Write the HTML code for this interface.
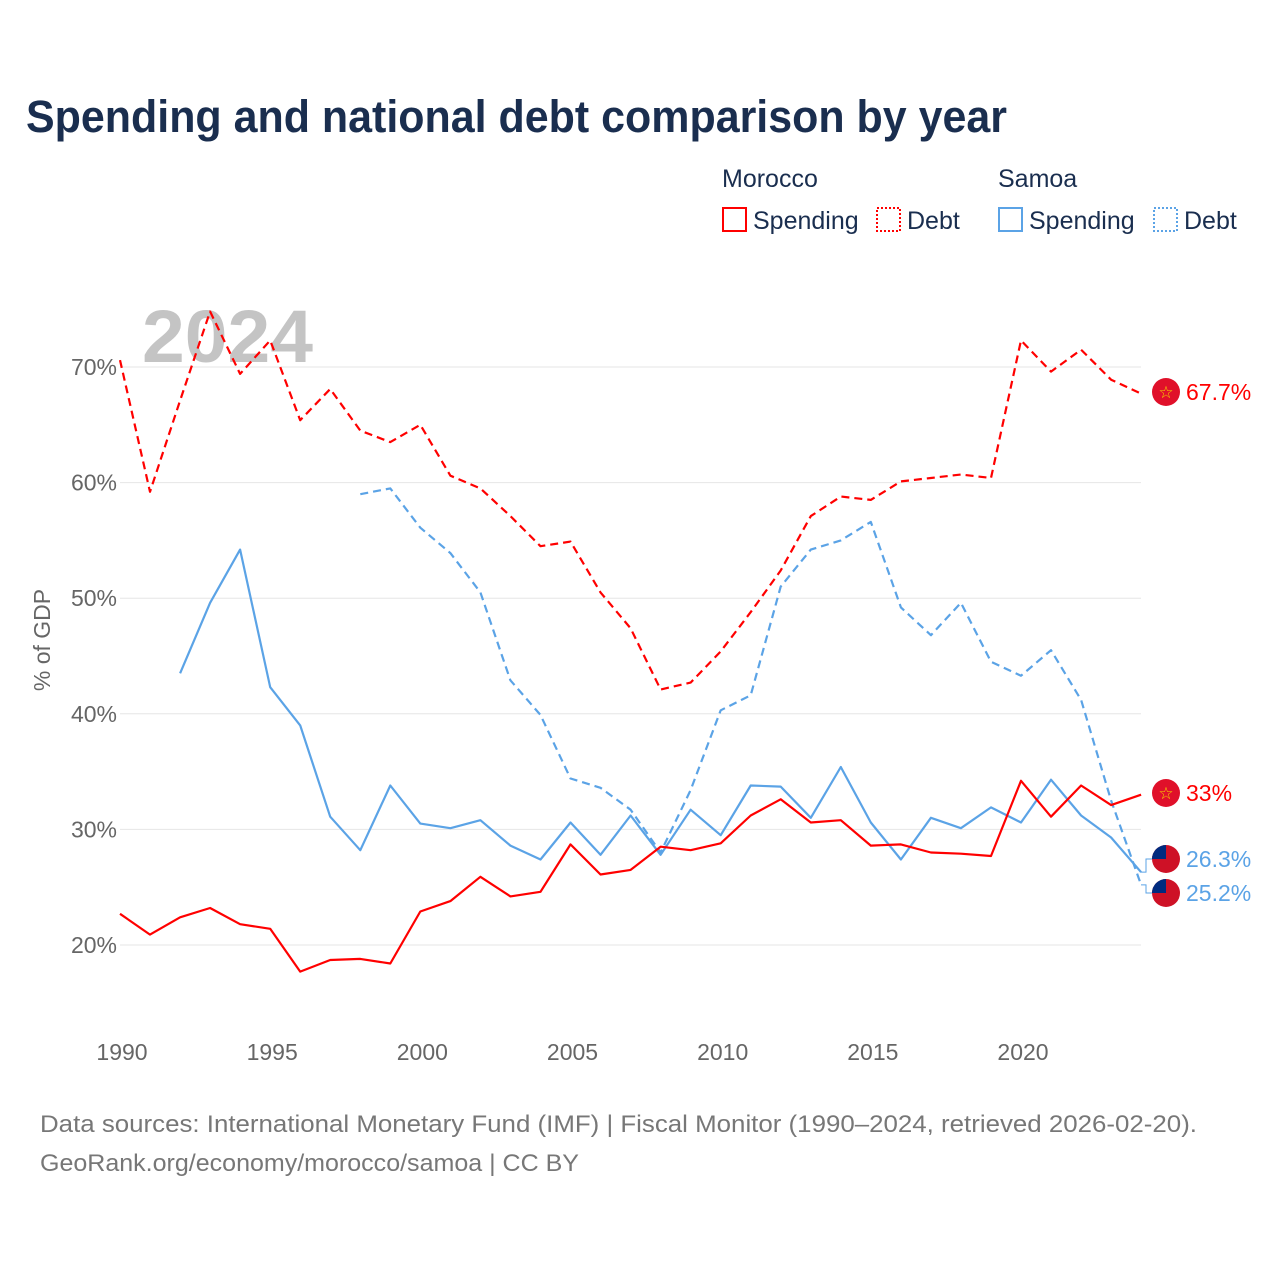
<!DOCTYPE html>
<html><head><meta charset="utf-8"><style>
body{margin:0;background:#fff;font-family:"Liberation Sans",sans-serif;}
svg text{font-family:"Liberation Sans",sans-serif;}
</style></head><body>
<svg id="chart" width="1280" height="1280" viewBox="0 0 1280 1280" xmlns="http://www.w3.org/2000/svg">
<text x="26" y="132" font-size="45" font-weight="bold" fill="#1a2e4f" textLength="981" lengthAdjust="spacingAndGlyphs">Spending and national debt comparison by year</text>
<g font-size="25" fill="#1a2e4f">
<text x="722" y="187">Morocco</text>
<text x="998" y="187">Samoa</text>
<g><rect x="723" y="208" width="23" height="23" fill="none" stroke="#f00" stroke-width="2"/><text x="753" y="229">Spending</text></g>
<g><rect x="877" y="208" width="23" height="23" fill="none" stroke="#f00" stroke-width="2" stroke-dasharray="2,2"/><text x="907" y="229">Debt</text></g>
<g><rect x="999" y="208" width="23" height="23" fill="none" stroke="#5ba3e6" stroke-width="2"/><text x="1029" y="229">Spending</text></g>
<g><rect x="1154" y="208" width="23" height="23" fill="none" stroke="#5ba3e6" stroke-width="2" stroke-dasharray="2,2"/><text x="1184" y="229">Debt</text></g>
</g>
<text x="142" y="362" font-size="74" font-weight="bold" fill="#c4c4c4" textLength="171" lengthAdjust="spacingAndGlyphs">2024</text>
<g id="grid"></g><g id="series"></g><g id="labels"></g>
<text transform="translate(50,640) rotate(-90)" text-anchor="middle" font-size="23" fill="#666">% of GDP</text>
<text x="40" y="1132" font-size="24" fill="#777" textLength="1157" lengthAdjust="spacingAndGlyphs">Data sources: International Monetary Fund (IMF) | Fiscal Monitor (1990–2024, retrieved 2026-02-20).</text>
<text x="40" y="1171" font-size="24" fill="#777" textLength="539" lengthAdjust="spacingAndGlyphs">GeoRank.org/economy/morocco/samoa | CC BY</text>
</svg>
<script>
const years=[];for(let y=1990;y<=2024;y++)years.push(y);
const yTicks=[20,30,40,50,60,70];
const xTicks=[1990,1995,2000,2005,2010,2015,2020];
const moroccoDebt=[70.6,59.2,67.1,74.8,69.4,72.3,65.4,68.1,64.5,63.5,65.0,60.6,59.5,57.1,54.5,54.9,50.5,47.4,42.1,42.7,45.4,48.8,52.4,57.1,58.8,58.5,60.1,60.4,60.7,60.4,72.3,69.6,71.5,68.9,67.7];
const moroccoSpending=[22.7,20.9,22.4,23.2,21.8,21.4,17.7,18.7,18.8,18.4,22.9,23.8,25.9,24.2,24.6,28.7,26.1,26.5,28.5,28.2,28.8,31.2,32.6,30.6,30.8,28.6,28.7,28.0,27.9,27.7,34.2,31.1,33.8,32.1,33.0];
const samoaSpending=[null,null,43.5,49.6,54.2,42.3,39.0,31.1,28.2,33.8,30.5,30.1,30.8,28.6,27.4,30.6,27.8,31.2,27.8,31.7,29.5,33.8,33.7,31.0,35.4,30.6,27.4,31.0,30.1,31.9,30.6,34.3,31.2,29.3,26.3];
const samoaDebt=[null,null,null,null,null,null,null,null,59.0,59.5,56.1,53.9,50.5,42.9,39.9,34.4,33.6,31.7,28.0,33.4,40.3,41.6,51.0,54.2,55.0,56.6,49.2,46.8,49.6,44.5,43.3,45.5,41.2,32.5,25.2];
const X=y=>120+(y-1990)*(1021-120)/30;
const Y=v=>945-(v-20)*11.56;
const NS="http://www.w3.org/2000/svg";
function mk(tag,attrs,parent){const e=document.createElementNS(NS,tag);for(const k in attrs)e.setAttribute(k,attrs[k]);parent.appendChild(e);return e;}
const grid=document.getElementById('grid');
yTicks.forEach(t=>{
 const l=mk('line',{x1:120,x2:1141,y1:Y(t),y2:Y(t),stroke:'#e6e6e6','stroke-width':1},grid);
 
 
 const tx=mk('text',{x:117,y:Y(t)+8,'text-anchor':'end','font-size':23,fill:'#666'},grid);
 tx.textContent=t+'%';
 
 
});
xTicks.forEach(t=>{
 const tx=mk('text',{x:X(t)+2,y:1060,'text-anchor':'middle','font-size':23,fill:'#666'},grid);
 tx.textContent=t;
 
 
});
const ser=document.getElementById('series');
function line(vals,color,dash,name){
 let d='';let pen=false;
 vals.forEach((v,i)=>{if(v==null){pen=false;return;}d+=(pen?'L':'M')+X(years[i]).toFixed(1)+','+Y(v).toFixed(1);pen=true;});
 const p=mk('path',{d:d,fill:'none',stroke:color,'stroke-width':2.2,'stroke-dasharray':dash||'none','stroke-linejoin':'round'},ser);
 
 
}
line(samoaDebt,'#5ba3e6','8,5','line-samoa-debt');
line(samoaSpending,'#5ba3e6','','line-samoa-spending');
line(moroccoDebt,'#f00','8,5','line-morocco-debt');
line(moroccoSpending,'#f00','','line-morocco-spending');
const lab=document.getElementById('labels');
function endLabel(v,ly,color,flag,name){
 const y0=Y(v);
 if(Math.abs(ly-y0)>2){const c=mk('path',{d:`M1141,${y0}H1146V${ly}H1152`,fill:'none',stroke:color,'stroke-width':1},lab);}
 const g=mk('g',{},lab);
 
 
 mk('circle',{cx:1166,cy:ly,r:14,fill:flag==='ma'?'#e0102a':'#ce1126'},g);
 if(flag==='ma'){const s=mk('text',{x:1166,y:ly+6,'text-anchor':'middle','font-size':17,fill:'#f5d000'},g);s.textContent='☆';}
 else{mk('path',{d:`M1152,${ly} A14,14 0 0 1 1166,${ly-14} V${ly} Z`,fill:'#002b7f'},g);}
 const t=mk('text',{x:1186,y:ly+8,'font-size':23,fill:color},g);
 t.textContent=(Math.round(v*10)/10)+'%';
}
endLabel(moroccoDebt[34],392,'#f00','ma','end-label-morocco-debt');
endLabel(moroccoSpending[34],793,'#f00','ma','end-label-morocco-spending');
endLabel(samoaSpending[34],859,'#5ba3e6','ws','end-label-samoa-spending');
endLabel(samoaDebt[34],893,'#5ba3e6','ws','end-label-samoa-debt');
</script>
</body></html>
